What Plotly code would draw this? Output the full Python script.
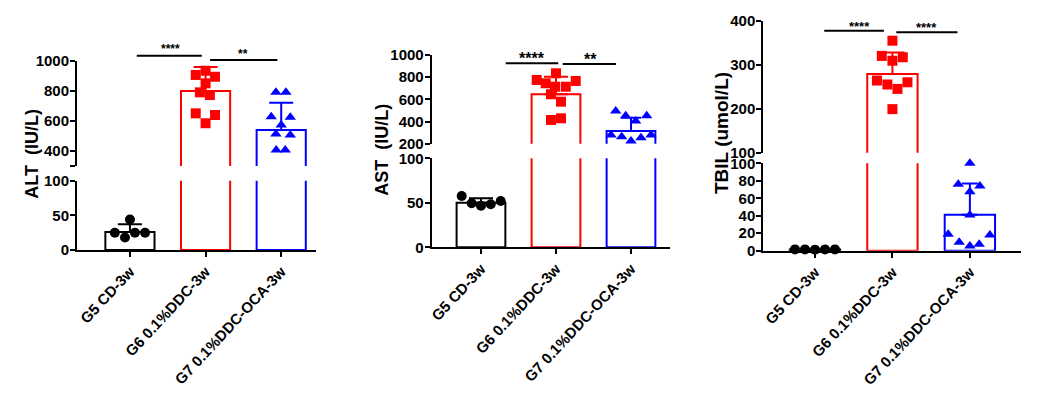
import plotly.graph_objects as go

W, H = 1038, 396

# ---------------- data ----------------
groups = ["G5 CD-3w", "G6 0.1%DDC-3w", "G7 0.1%DDC-OCA-3w"]
group_colors = ["#000000", "#FF0000", "#0000FF"]
group_symbols = ["circle", "square", "triangle-up"]

ALT_mean = [26, 800, 540]
ALT_sd = [11, 160, 182]
ALT_G5 = [25, 44, 18, 25, 25]
ALT_G6 = [907, 935, 895, 851, 791, 773, 651, 640, 585]
ALT_G7 = [791, 791, 629, 625, 573, 513, 507, 407, 407]

AST_mean = [50, 647, 315]
AST_sd = [5, 157, 120]
AST_G5 = [57.6, 49.4, 46.8, 48.3, 52]
AST_G6 = [775, 835, 745, 714, 714, 766, 646, 579, 414, 429]
AST_G7 = [495, 453, 405, 453, 279, 263, 224, 254, 279]

TBIL_mean = [1.4, 279, 41]
TBIL_sd = [0.3, 49, 36]
TBIL_G5 = [1.5, 1.5, 1.2, 1.5, 1.5]
TBIL_G6 = [354.5, 320, 317, 309, 264, 260, 255, 245, 199]
TBIL_G7 = [100, 76, 74, 67.5, 40.8, 18.8, 18, 9.6, 5.4, 7.3]

ALT_sig = ["****", "**"]
AST_sig = ["****", "**"]
TBIL_sig = ["****", "****"]

# ---------------- horizontal jitter of points (layout only) ----------------
ALT_jit = [[-0.2, 0, -0.066, 0.066, 0.2],
           [-0.13, 0, 0.125, 0, -0.075, 0.057, -0.13, 0.125, 0],
           [-0.07, 0.062, -0.132, 0.12, 0, -0.07, 0.12, -0.066, 0.053]]
AST_jit = [[-0.257, -0.124, 0, 0.13, 0.263],
           [-0.257, 0, -0.137, -0.013, 0.13, 0.263, -0.067, 0.067, -0.067, 0.067],
           [-0.204, -0.071, 0.062, 0.209, -0.267, -0.124, 0, 0.133, 0.267]]
TBIL_jit = [[-0.258, -0.129, 0, 0.129, 0.258],
            [0, -0.137, 0.134, 0, -0.2, 0.194, -0.065, 0.065, 0],
            [0, -0.15, 0.129, 0, 0, -0.28, 0.258, -0.138, 0, 0.12]]

panels = [
    dict(title="ALT  (IU/L)", mean=ALT_mean, sd=ALT_sd, pts=[ALT_G5, ALT_G6, ALT_G7], jit=ALT_jit,
         lo_range=[0, 100], lo_ticks=[0, 50, 100], lo_text=["0", "50", "100"],
         hi_range=[300, 1000], hi_ticks=[300, 400, 600, 800, 1000], hi_text=["", "400", "600", "800", "1000"],
         sig=ALT_sig, sig_x=[[0.09, 0.95], [1.06, 1.95]], sig_y=[1035, 1007],
         sig_tx=[0.53, 1.5], sig_ty=[1102, 1067], sig_fs=12,
         xpx=[77, 316], lo_px=[250, 180.7], hi_px=[166, 61], xr=[-0.70, 2.46],
         title_px=[32, 153.7], title_fs=18, caps=[12, 12, 12]),
    dict(title="AST  (IU/L)", mean=AST_mean, sd=AST_sd, pts=[AST_G5, AST_G6, AST_G7], jit=AST_jit,
         lo_range=[0, 100], lo_ticks=[0, 50, 100], lo_text=["0", "50", "100"],
         hi_range=[200, 1000], hi_ticks=[200, 400, 600, 800, 1000], hi_text=["200", "400", "600", "800", "1000"],
         sig=AST_sig, sig_x=[[0.33, 1.03], [1.09, 1.80]], sig_y=[925, 919],
         sig_tx=[0.68, 1.46], sig_ty=[1000, 997], sig_fs=16,
         xpx=[431.7, 670], lo_px=[247.3, 158.3], hi_px=[143.7, 55], xr=[-0.657, 2.52],
         title_px=[381.7, 150], title_fs=18, caps=[12, 12, 10]),
    dict(title="TBIL (umol/L)", mean=TBIL_mean, sd=TBIL_sd, pts=[TBIL_G5, TBIL_G6, TBIL_G7], jit=TBIL_jit,
         lo_range=[0, 100], lo_ticks=[0, 20, 40, 60, 80, 100], lo_text=["0", "20", "40", "60", "80", "100"],
         hi_range=[100, 400], hi_ticks=[100, 200, 300, 400], hi_text=["100", "200", "300", "400"],
         sig=TBIL_sig, sig_x=[[0.12, 0.89], [1.05, 1.84]], sig_y=[377, 374],
         sig_tx=[0.58, 1.44], sig_ty=[394, 392], sig_fs=13,
         xpx=[763.3, 1021], lo_px=[250.7, 163.3], hi_px=[152.7, 20.7], xr=[-0.667, 2.66],
         title_px=[721.7, 133.3], title_fs=19, caps=[8, 12, 8]),
]

TICKFONT = dict(family="Liberation Sans, Arial", size=15, color="black", weight="bold")
XFONT = dict(family="Liberation Sans, Arial", size=15, color="black", weight="bold")


def fx(px):
    return px / W


def fy(py):
    return 1 - py / H


fig = go.Figure()
layout = dict(width=W, height=H, autosize=False, margin=dict(l=0, r=0, t=0, b=0, pad=0),
              paper_bgcolor="white", plot_bgcolor="rgba(0,0,0,0)",
              showlegend=False, barmode="overlay")
shapes, annotations = [], []

for k, p in enumerate(panels):
    xid = "x" if k == 0 else f"x{k + 1}"
    ylo = "y" if k == 0 else f"y{2 * k + 1}"
    yhi = f"y{2 * k + 2}"
    xkey = "xaxis" if k == 0 else f"xaxis{k + 1}"
    ylokey = "yaxis" if k == 0 else f"yaxis{2 * k + 1}"
    yhikey = f"yaxis{2 * k + 2}"

    for yid, rng in ((ylo, p["lo_range"]), (yhi, p["hi_range"])):
        # bars with error bars
        for i in range(3):
            c = group_colors[i]
            fig.add_trace(go.Bar(
                x=[i], y=[p["mean"][i]], width=0.65, xaxis=xid, yaxis=yid,
                marker=dict(color="white", line=dict(color=c, width=2)),
                error_y=dict(type="data", array=[p["sd"][i]], arrayminus=[0], symmetric=False,
                             color=c, thickness=2, width=p["caps"][i]),
                hoverinfo="skip"))
        # points
        for i in range(3):
            vals = p["pts"][i]
            offs = p["jit"][i]
            if yid == ylo:
                sel = [(i + o, v) for o, v in zip(offs, vals) if v <= rng[1]]
            else:
                sel = [(i + o, v) for o, v in zip(offs, vals) if v > p["lo_range"][1]]
            if not sel:
                continue
            fig.add_trace(go.Scatter(
                x=[s[0] for s in sel], y=[s[1] for s in sel], xaxis=xid, yaxis=yid,
                mode="markers", cliponaxis=False,
                marker=dict(symbol=group_symbols[i], color=group_colors[i], size=10,
                            line=dict(width=0)),
                hoverinfo="skip"))

    yax_common = dict(showline=True, linewidth=2, linecolor="black", ticks="outside",
                      ticklen=5, tickwidth=2, tickcolor="black", showgrid=False,
                      zeroline=False, tickfont=TICKFONT, anchor=xid, fixedrange=True,
                      automargin=False, ticklabelstandoff=-2)
    layout[ylokey] = dict(yax_common, domain=[fy(p["lo_px"][0]), fy(p["lo_px"][1])],
                          range=p["lo_range"], tickmode="array",
                          tickvals=p["lo_ticks"], ticktext=p["lo_text"])
    layout[yhikey] = dict(yax_common, domain=[fy(p["hi_px"][0]), fy(p["hi_px"][1])],
                          range=p["hi_range"], tickmode="array",
                          tickvals=p["hi_ticks"], ticktext=p["hi_text"])
    layout[xkey] = dict(domain=[fx(p["xpx"][0]), fx(p["xpx"][1])], range=p["xr"],
                        anchor=ylo, showline=True, linewidth=2, linecolor="black",
                        ticks="outside", ticklen=5, tickwidth=2, tickcolor="black",
                        tickmode="array", tickvals=[0, 1, 2], ticktext=groups,
                        tickangle=-47, tickfont=XFONT, showgrid=False, zeroline=False,
                        fixedrange=True, automargin=False)

    # significance bars (in axis-domain coordinates computed from data values)
    x0r, x1r = p["xr"]
    h0, h1 = p["hi_range"]

    def dx(v):
        return (v - x0r) / (x1r - x0r)

    def dy(v):
        return (v - h0) / (h1 - h0)

    for j in range(2):
        shapes.append(dict(type="line", xref=f"{xid} domain", yref=f"{yhi} domain",
                           x0=dx(p["sig_x"][j][0]), x1=dx(p["sig_x"][j][1]),
                           y0=dy(p["sig_y"][j]), y1=dy(p["sig_y"][j]),
                           line=dict(color="black", width=2)))
        annotations.append(dict(xref=f"{xid} domain", yref=f"{yhi} domain",
                                x=dx(p["sig_tx"][j]), y=dy(p["sig_ty"][j]),
                                text=p["sig"][j], showarrow=False,
                                xanchor="center", yanchor="middle",
                                yshift=-0.25 * p["sig_fs"],
                                font=dict(family="Liberation Sans, Arial", size=p["sig_fs"],
                                          color="black", weight="bold")))
    # y-axis title spanning both segments
    annotations.append(dict(xref="paper", yref="paper", x=fx(p["title_px"][0]),
                            y=fy(p["title_px"][1]), text=p["title"], showarrow=False,
                            textangle=-90, xanchor="center", yanchor="middle",
                            font=dict(family="Liberation Sans, Arial", size=p["title_fs"],
                                      color="black", weight="bold")))

layout["shapes"] = shapes
layout["annotations"] = annotations
fig.update_layout(**layout)
fig.write_html("out.html", config={"responsive": False, "displayModeBar": False},
               post_script="document.body.style.margin='0';document.body.style.overflow='hidden';")
